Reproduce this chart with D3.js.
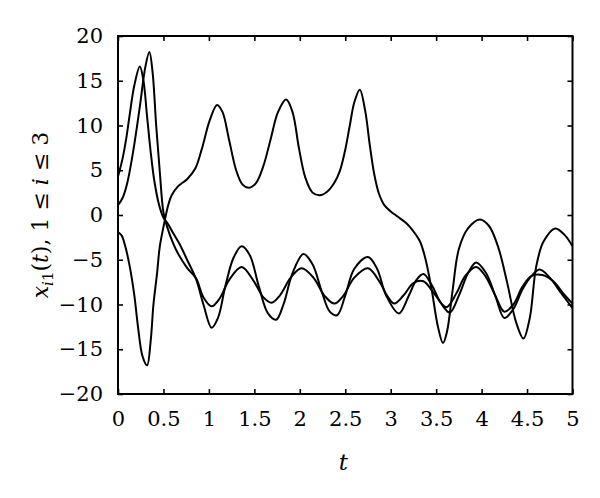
<!DOCTYPE html>
<html>
<head>
<meta charset="utf-8">
<script src="https://cdn.jsdelivr.net/npm/d3@7"></script>
<style>
  body { margin: 0; background: #fff; }
  svg text { font-family: "DejaVu Serif", serif; fill: #000; }
</style>
</head>
<body>
<svg id="drawing_region"></svg>
<script>
// ticks
const xTicks = [0, 0.5, 1, 1.5, 2, 2.5, 3, 3.5, 4, 4.5, 5];
const yTicks = [-20, -15, -10, -5, 0, 5, 10, 15, 20];

// x11(t)
const tA = [0, 0.05, 0.09, 0.13, 0.18, 0.24, 0.28, 0.32, 0.36, 0.40, 0.45, 0.50, 0.55, 0.60, 0.68, 0.76, 0.86, 0.94, 1.03, 1.10, 1.18, 1.27, 1.36, 1.45, 1.55, 1.65, 1.74, 1.82, 1.92, 2.04, 2.14, 2.24, 2.33, 2.41, 2.50, 2.60, 2.75, 2.85, 2.95, 3.09, 3.20, 3.28, 3.36, 3.45, 3.55, 3.65, 3.75, 3.85, 3.94, 4.05, 4.15, 4.25, 4.35, 4.45, 4.55, 4.64, 4.75, 4.88, 5.0];
const vA = [4.3, 6.3, 8.5, 11.3, 14.5, 16.6, 15, 11, 7, 3.8, 1.2, -0.3, -1.0, -1.9, -3.3, -5.0, -7.2, -10, -12.6, -11.5, -8, -4.8, -3.5, -4.5, -8, -11, -11.7, -10, -6.5, -4.35, -5.5, -8.5, -10.8, -11.2, -9, -6, -4.7, -6, -9, -11.0, -9, -7.3, -6.6, -7.8, -9.8, -10.9, -9, -6.5, -5.3, -6.5, -9, -11.5, -10.5, -8.3, -6.8, -6.1, -7, -8.8, -10.4];

// x21(t)
const tB = [0, 0.05, 0.10, 0.17, 0.24, 0.30, 0.345, 0.38, 0.42, 0.46, 0.50, 0.54, 0.60, 0.66, 0.76, 0.86, 0.94, 1.03, 1.12, 1.22, 1.36, 1.50, 1.60, 1.69, 1.78, 1.90, 2.02, 2.15, 2.27, 2.38, 2.48, 2.60, 2.75, 2.88, 2.96, 3.04, 3.14, 3.25, 3.36, 3.48, 3.61, 3.72, 3.82, 3.94, 4.04, 4.15, 4.25, 4.35, 4.45, 4.55, 4.67, 4.80, 4.90, 5.0];
const vB = [1.1, 1.9, 3.5, 7.3, 12.1, 16.5, 18.2, 16, 10, 4.8, 0.3, -1.3, -3.0, -4.3, -5.9, -7.1, -9.2, -10.2, -9.3, -7.3, -5.8, -7.5, -9.2, -9.8, -9, -7, -5.96, -7, -9, -9.9, -9, -7, -5.96, -7.5, -9, -9.9, -9, -7.6, -7.4, -8.8, -10.3, -8.8, -6.8, -5.8, -6.8, -9, -10.8, -10, -8, -6.8, -6.7, -7.5, -8.8, -9.9];

// x31(t)
const tC = [0, 0.04, 0.08, 0.13, 0.18, 0.22, 0.27, 0.32, 0.36, 0.39, 0.43, 0.46, 0.515, 0.55, 0.59, 0.66, 0.76, 0.85, 0.92, 1.01, 1.09, 1.15, 1.22, 1.30, 1.37, 1.44, 1.52, 1.60, 1.68, 1.76, 1.85, 1.92, 1.99, 2.06, 2.14, 2.22, 2.30, 2.38, 2.44, 2.50, 2.55, 2.60, 2.66, 2.72, 2.77, 2.82, 2.87, 2.93, 3.00, 3.08, 3.17, 3.24, 3.32, 3.38, 3.45, 3.52, 3.575, 3.62, 3.68, 3.75, 3.85, 3.98, 4.08, 4.18, 4.28, 4.38, 4.46, 4.53, 4.60, 4.68, 4.81, 4.92, 5.0];
const vC = [-1.9, -2.3, -3.5, -5.8, -9, -12.5, -15.8, -16.8, -14, -10, -6.5, -3.5, -0.6, 1.0, 2.2, 3.2, 4.0, 5.2, 7.3, 10.6, 12.3, 11.5, 8.5, 5, 3.4, 3.05, 3.6, 5.5, 8.5, 11.5, 12.9, 11.5, 7.5, 4.2, 2.5, 2.2, 2.6, 3.6, 4.9, 7.3, 10, 12.6, 14.0, 11.6, 7.8, 4.5, 2.4, 1.1, 0.4, -0.2, -0.9, -1.7, -2.9, -4.8, -8.3, -12.5, -14.3, -13, -8.5, -3.8, -1.5, -0.5, -1.2, -3.5, -7.5, -12, -13.8, -11.5, -5.8, -3, -1.5, -2.3, -3.5];

const series = [
    tA.map((t, i) => ({ t: t, v: vA[i] })),
    tB.map((t, i) => ({ t: t, v: vB[i] })),
    tC.map((t, i) => ({ t: t, v: vC[i] }))
];

const width = 600, height = 498;
const margin = { top: 36, right: 27.5, bottom: 104, left: 118 };
const inner_width = width - margin.left - margin.right;
const inner_height = height - margin.top - margin.bottom;

const svg = d3.select('#drawing_region')
    .attr('width', width)
    .attr('height', height);

const chart = svg.append('g')
    .attr('transform', `translate(${margin.left}, ${margin.top})`);

const xscale = d3.scaleLinear().domain([0, 5]).range([0, inner_width]);
const yscale = d3.scaleLinear().domain([-20, 20]).range([inner_height, 0]);

chart.append('clipPath').attr('id', 'clip')
    .append('rect').attr('width', inner_width).attr('height', inner_height);

// curves
const line = d3.line()
    .x(d => xscale(d.t))
    .y(d => yscale(d.v))
    .curve(d3.curveCatmullRom.alpha(0.5));

chart.append('g').attr('clip-path', 'url(#clip)')
    .selectAll('path')
    .data(series)
    .join('path')
    .attr('d', line)
    .attr('fill', 'none')
    .attr('stroke', '#000')
    .attr('stroke-width', 2);

// axes, ticks pointing inward
const tickLen = 5;
const fmt = d => d < 0 ? '\u2212' + Math.abs(d) : String(d);

const xaxis_group = chart.append('g')
    .attr('transform', `translate(0, ${inner_height})`)
    .call(d3.axisBottom(xscale).tickValues(xTicks).tickSizeInner(-tickLen).tickSizeOuter(0).tickPadding(17).tickFormat(fmt));
const xtop_group = chart.append('g')
    .call(d3.axisTop(xscale).tickValues(xTicks).tickSizeInner(-tickLen).tickSizeOuter(0).tickFormat(''));
const yaxis_group = chart.append('g')
    .call(d3.axisLeft(yscale).tickValues(yTicks).tickSizeInner(-tickLen).tickSizeOuter(0).tickPadding(15).tickFormat(fmt));
const yright_group = chart.append('g')
    .attr('transform', `translate(${inner_width}, 0)`)
    .call(d3.axisRight(yscale).tickValues(yTicks).tickSizeInner(-tickLen).tickSizeOuter(0).tickFormat(''));

[xaxis_group, xtop_group, yaxis_group, yright_group].forEach(g => {
    g.select('.domain').remove();
    g.selectAll('.tick line').attr('stroke', '#000').attr('stroke-width', 1.6);
    g.selectAll('.tick text')
        .style('font-family', '"DejaVu Serif", serif')
        .style('font-size', '21px')
        .attr('fill', '#000');
});
xaxis_group.selectAll('.tick text').attr('dy', '0.71em');

chart.append('rect')
    .attr('width', inner_width)
    .attr('height', inner_height)
    .attr('fill', 'none')
    .attr('stroke', '#000')
    .attr('stroke-width', 2);

// axis labels
svg.append('text')
    .attr('x', margin.left + inner_width / 2 - 2)
    .attr('y', 470)
    .attr('text-anchor', 'middle')
    .style('font-size', '23px')
    .style('font-style', 'italic')
    .text('t');

const ylab = svg.append('text')
    .attr('transform', `translate(48, ${margin.top + inner_height / 2}) rotate(-90)`)
    .attr('text-anchor', 'middle')
    .style('font-size', '22px');
ylab.append('tspan').style('font-style', 'italic').text('x');
ylab.append('tspan').style('font-style', 'italic').style('font-size', '15px').attr('dy', 5).text('i');
ylab.append('tspan').style('font-size', '15px').text('1');
ylab.append('tspan').attr('dy', -5).text('(');
ylab.append('tspan').style('font-style', 'italic').text('t');
ylab.append('tspan').text('), 1 \u2264 ');
ylab.append('tspan').style('font-style', 'italic').text('i');
ylab.append('tspan').text(' \u2264 3');
</script>
</body>
</html>
